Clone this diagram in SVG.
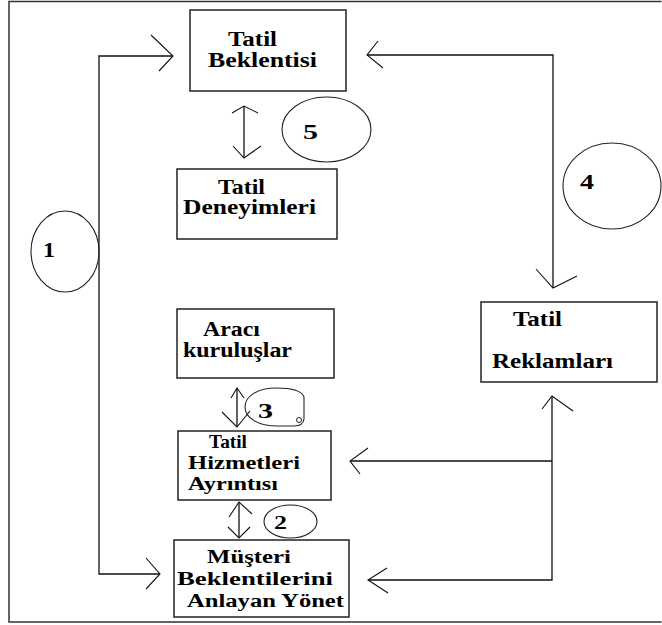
<svg xmlns="http://www.w3.org/2000/svg" width="662" height="625" viewBox="0 0 662 625">
<style>
.box{fill:#fff;stroke:#222;stroke-width:1.5}
.ln{fill:none;stroke:#111;stroke-width:1.3}
.ah{fill:none;stroke:#111;stroke-width:1.1}
.ov{fill:none;stroke:#222;stroke-width:1.1}
text{font-family:'Liberation Serif','DejaVu Serif',serif;font-weight:bold;fill:#000}
.t{font-size:20px}
.s{font-size:18px}
.n{font-size:22px}
</style>
<rect width="662" height="625" fill="#fff"/>
<path d="M661.5,1.5 H9 V622 H661.5" fill="none" stroke="#333" stroke-width="1.5"/>

<g id="connectors">
  <path class="ln" d="M173,56 H99 V574 H160"/>
  <path class="ah" d="M151,35 L173,56 L159,71"/>
  <path class="ah" d="M146,558 L160,574 L146,589"/>
  <path class="ln" d="M367,55 H553 V288"/>
  <path class="ah" d="M378,41 L367,55 L383,68"/>
  <path class="ah" d="M536,269 L553,288 L577,276"/>
  <path class="ln" d="M552,396 V580 H368"/>
  <path class="ln" d="M552,461 H350"/>
  <path class="ah" d="M542,409 L552,396 L573,411"/>
  <path class="ah" d="M368,448 L350,461 L360,474"/>
  <path class="ah" d="M387,568 L368,580 L388,593"/>
  <path class="ln" d="M244,106 V158"/>
  <path class="ah" d="M232,113 L244,106 L258,113"/>
  <path class="ah" d="M233,146 L244,158 L261,146"/>
  <path class="ln" d="M237,388 V427"/>
  <path class="ah" d="M231,398 L237,388 L244,398"/>
  <path class="ah" d="M222,412 L237,427 L250,411"/>
  <path class="ln" d="M239,502 V538"/>
  <path class="ah" d="M229,517 L239,502 L252,514"/>
  <path class="ah" d="M228,527 L239,538 L250,527"/>
</g>

<g id="label-1">
  <ellipse class="ov" cx="65" cy="251.5" rx="34" ry="40.5"/>
  <text class="n" x="43" y="257" textLength="12" lengthAdjust="spacingAndGlyphs">1</text>
</g>
<g id="label-2">
  <ellipse class="ov" cx="290.5" cy="521.5" rx="26.5" ry="16.5"/>
  <text class="n" x="274" y="529" style="font-size:18px" textLength="13" lengthAdjust="spacingAndGlyphs">2</text>
</g>
<g id="label-3">
  <path class="ov" d="M304,397 L304,419 Q303,426 294,426 L278,426 C258,426 245,418 245,407 C245,396 258,388 276,388 C292,388 302,391 304,397 Z"/>
  <circle cx="299" cy="420" r="2.5" fill="none" stroke="#222" stroke-width="1"/>
  <text class="n" x="258" y="418" textLength="15" lengthAdjust="spacingAndGlyphs">3</text>
</g>
<g id="label-4">
  <ellipse class="ov" cx="612" cy="186" rx="49" ry="43"/>
  <text class="n" x="580" y="189" textLength="14" lengthAdjust="spacingAndGlyphs">4</text>
</g>
<g id="label-5">
  <ellipse class="ov" cx="326.5" cy="129.5" rx="44.5" ry="32.5"/>
  <text class="n" x="303" y="139" textLength="15" lengthAdjust="spacingAndGlyphs">5</text>
</g>

<g id="tatil-beklentisi">
  <rect class="box" x="190" y="10" width="156" height="81"/>
  <text class="t" x="228" y="46" textLength="49" lengthAdjust="spacingAndGlyphs">Tatil</text>
  <text class="t" x="208" y="67" textLength="109" lengthAdjust="spacingAndGlyphs">Beklentisi</text>
</g>
<g id="tatil-deneyimleri">
  <rect class="box" x="177" y="169" width="160" height="70"/>
  <text class="t" x="218" y="194" textLength="47" lengthAdjust="spacingAndGlyphs">Tatil</text>
  <text class="t" x="183" y="214" textLength="133" lengthAdjust="spacingAndGlyphs">Deneyimleri</text>
</g>
<g id="araci-kuruluslar">
  <rect class="box" x="177" y="309" width="157" height="69"/>
  <text class="t" x="203" y="336" textLength="57" lengthAdjust="spacingAndGlyphs">Aracı</text>
  <text class="t" x="183" y="357" textLength="109" lengthAdjust="spacingAndGlyphs">kuruluşlar</text>
</g>
<g id="tatil-reklamlari">
  <rect class="box" x="481" y="302" width="176" height="80"/>
  <text class="t" x="513" y="326" textLength="49" lengthAdjust="spacingAndGlyphs">Tatil</text>
  <text class="t" x="492" y="368" textLength="121" lengthAdjust="spacingAndGlyphs">Reklamları</text>
</g>
<g id="tatil-hizmetleri">
  <rect class="box" x="178" y="431" width="153" height="69"/>
  <text class="s" x="209" y="448" textLength="38" lengthAdjust="spacingAndGlyphs">Tatil</text>
  <text class="s" x="188" y="469" textLength="112" lengthAdjust="spacingAndGlyphs">Hizmetleri</text>
  <text class="s" x="188" y="490" textLength="90" lengthAdjust="spacingAndGlyphs">Ayrıntısı</text>
</g>
<g id="musteri-beklentileri">
  <rect class="box" x="174" y="540" width="175" height="77"/>
  <text class="s" x="207" y="563" textLength="84" lengthAdjust="spacingAndGlyphs">Müşteri</text>
  <text class="s" x="177" y="585" textLength="156" lengthAdjust="spacingAndGlyphs">Beklentilerini</text>
  <text class="s" x="187" y="607" textLength="157" lengthAdjust="spacingAndGlyphs">Anlayan Yönet</text>
</g>
</svg>
